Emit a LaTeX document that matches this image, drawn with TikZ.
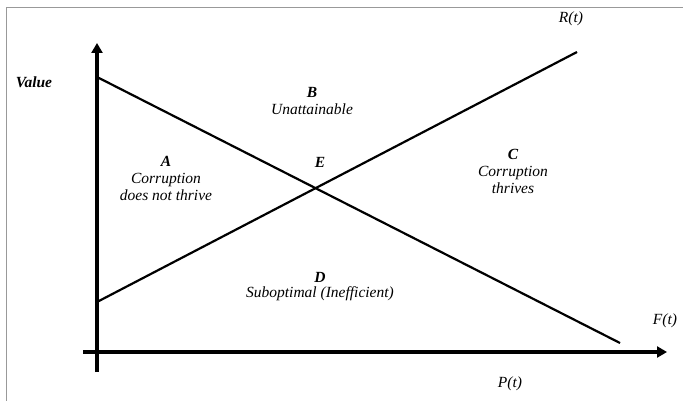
\documentclass[tikz,border=0pt]{standalone}
\usepackage{fontspec}
\setmainfont{Liberation Serif}
\usetikzlibrary{arrows.meta}
\begin{document}
\begin{tikzpicture}[x=1pt,y=-1pt,
  axis/.style={line width=3.4pt,-{Triangle[length=10pt,width=11pt]}},
  curve/.style={line width=2.2pt},
  lbl/.style={font=\fontsize{15.5}{17}\selectfont\itshape,align=center,inner sep=0pt},
  blbl/.style={font=\fontsize{15.5}{17}\selectfont\bfseries\itshape,inner sep=0pt},
  frame/.style={draw=gray!80,line width=1pt}]
\useasboundingbox (0,0) rectangle (683,401);
\draw[frame] (6,401) -- (6,8) -- (683,8);
% axes
\coordinate (vb) at (97,372);
\coordinate (vt) at (97,43);
\coordinate (hl) at (83,352);
\coordinate (hr) at (667,352);
\draw[axis] (vb) -- (vt);
\draw[axis] (hl) -- (hr);
% lines
\coordinate (f0) at (97,77);
\coordinate (f1) at (620,343);
\coordinate (r0) at (97,302);
\coordinate (r1) at (577,52);
\draw[curve] (f0) -- (f1);
\draw[curve] (r0) -- (r1);
% labels
\node[blbl] (value) at (34,82) {Value};
\node[blbl] (B) at (312,92) {B};
\node[lbl] (Bt) at (312,109) {Unattainable};
\node[blbl] (A) at (166,161) {A};
\node[lbl] (At) at (166,187) {Corruption\\does not thrive};
\node[blbl] (E) at (320,162) {E};
\node[blbl] (C) at (513,154) {C};
\node[lbl] (Ct) at (513,179.5) {Corruption\\thrives};
\node[blbl] (D) at (320,277) {D};
\node[lbl] (Dt) at (320,294) {Suboptimal (Inefficient)};
\node[lbl] (R) at (571,19) {R(t)};
\node[lbl] (F) at (665,321) {F(t)};
\node[lbl] (P) at (510,384) {P(t)};
\end{tikzpicture}
\end{document}
